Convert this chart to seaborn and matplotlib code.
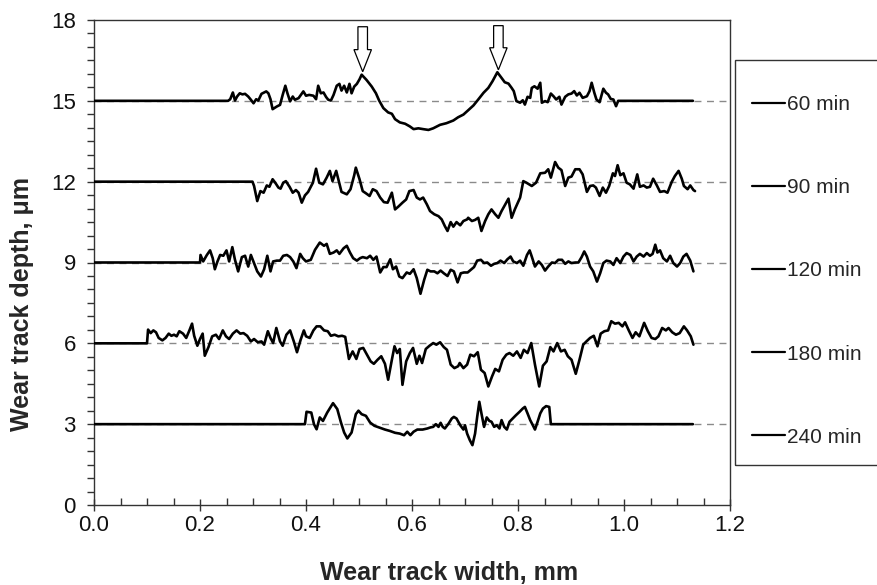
import matplotlib
matplotlib.use("Agg")
import matplotlib.pyplot as plt
import seaborn as sns
from matplotlib.ticker import MultipleLocator, FormatStrFormatter
from matplotlib.lines import Line2D
from matplotlib.patches import Rectangle

# ---------------- data ----------------
labels = ["60 min", "90 min", "120 min", "180 min", "240 min"]
baselines = [15, 12, 9, 6, 3]

x60 = [0.0, 0.253, 0.257, 0.262, 0.266, 0.270, 0.275, 0.280, 0.285, 0.291, 0.296, 0.301, 0.306, 0.310,
       0.316, 0.325, 0.329, 0.333, 0.337, 0.345, 0.351, 0.356, 0.361, 0.365, 0.370, 0.375, 0.379, 0.386,
       0.395, 0.400, 0.406, 0.414, 0.419, 0.423, 0.428, 0.433, 0.438, 0.442, 0.447, 0.452, 0.458, 0.463,
       0.467, 0.472, 0.477, 0.482, 0.486, 0.491, 0.496, 0.501, 0.505, 0.514, 0.524, 0.532, 0.538, 0.546,
       0.555, 0.562, 0.568, 0.577, 0.587, 0.596, 0.603, 0.612, 0.621, 0.631, 0.640, 0.653, 0.665, 0.678,
       0.687, 0.697, 0.706, 0.716, 0.725, 0.735, 0.744, 0.752, 0.761, 0.769, 0.775, 0.782, 0.788, 0.792,
       0.797, 0.804, 0.809, 0.813, 0.818, 0.823, 0.826, 0.831, 0.837, 0.842, 0.845, 0.851, 0.856, 0.862,
       0.867, 0.872, 0.878, 0.882, 0.889, 0.895, 0.901, 0.906, 0.911, 0.916, 0.922, 0.930, 0.935, 0.939,
       0.944, 0.948, 0.954, 0.961, 0.966, 0.970, 0.975, 0.980, 0.985, 0.989, 1.130]
y60 = [15.0, 15.0, 15.06, 15.31, 15.01, 15.16, 15.28, 15.24, 15.26, 15.16, 15.04, 14.91, 15.06, 15.01,
       15.26, 15.35, 15.28, 15.06, 14.69, 14.79, 14.85, 15.22, 15.56, 15.28, 14.98, 15.16, 15.04, 15.10,
       15.35, 15.19, 15.22, 15.19, 15.06, 15.56, 15.28, 15.31, 15.14, 15.04, 15.01, 15.22, 15.56, 15.63,
       15.38, 15.56, 15.31, 15.63, 15.28, 15.53, 15.63, 15.80, 15.97, 15.78, 15.53, 15.28, 15.01, 14.73,
       14.57, 14.52, 14.32, 14.20, 14.15, 14.05, 13.95, 13.98, 13.95, 13.92, 13.98, 14.11, 14.17, 14.27,
       14.39, 14.49, 14.65, 14.83, 15.05, 15.30, 15.48, 15.73, 16.06, 15.85, 15.69, 15.64, 15.48, 15.36,
       14.99, 14.93, 15.02, 14.86, 15.15, 15.11, 15.48, 15.54, 15.45, 15.67, 14.93, 14.99, 14.95, 15.27,
       15.17, 15.05, 15.15, 14.86, 15.15, 15.24, 15.27, 15.36, 15.20, 15.30, 15.11, 15.17, 15.36, 15.67,
       15.30, 15.05, 14.95, 15.45, 15.30, 15.24, 15.07, 15.05, 14.80, 15.0, 15.0]

x90 = [0.0, 0.299, 0.302, 0.308, 0.314, 0.320, 0.326, 0.331, 0.337, 0.342, 0.348, 0.352, 0.357, 0.362,
       0.369, 0.375, 0.381, 0.386, 0.392, 0.398, 0.404, 0.413, 0.419, 0.425, 0.432, 0.439, 0.445, 0.450,
       0.457, 0.461, 0.467, 0.477, 0.484, 0.491, 0.494, 0.501, 0.507, 0.513, 0.520, 0.526, 0.533, 0.540,
       0.547, 0.554, 0.562, 0.568, 0.574, 0.582, 0.589, 0.595, 0.603, 0.609, 0.615, 0.621, 0.628, 0.634,
       0.642, 0.650, 0.656, 0.662, 0.667, 0.673, 0.678, 0.684, 0.691, 0.697, 0.704, 0.706, 0.713, 0.719,
       0.725, 0.731, 0.738, 0.744, 0.750, 0.757, 0.763, 0.769, 0.776, 0.782, 0.788, 0.794, 0.804, 0.810,
       0.816, 0.826, 0.834, 0.842, 0.851, 0.857, 0.862, 0.870, 0.876, 0.882, 0.889, 0.895, 0.901, 0.908,
       0.916, 0.922, 0.930, 0.936, 0.942, 0.947, 0.954, 0.960, 0.966, 0.972, 0.979, 0.983, 0.988, 0.993,
       0.999, 1.005, 1.011, 1.018, 1.025, 1.030, 1.037, 1.043, 1.049, 1.055, 1.062, 1.068, 1.076, 1.082,
       1.090, 1.096, 1.103, 1.109, 1.113, 1.120, 1.125, 1.131, 1.134]
y90 = [12.0, 12.0, 11.84, 11.28, 11.65, 11.59, 11.86, 11.81, 12.09, 11.96, 11.78, 11.74, 11.96, 12.02,
       11.81, 11.59, 11.69, 11.59, 11.22, 11.49, 11.62, 11.96, 12.48, 11.96, 11.90, 12.15, 12.40, 12.02,
       12.40, 12.09, 11.62, 11.53, 11.72, 12.24, 12.52, 12.09, 11.65, 11.57, 11.47, 11.72, 11.65, 11.41,
       11.24, 11.22, 11.59, 10.97, 11.07, 11.22, 11.34, 11.65, 11.69, 11.41, 11.34, 11.41, 11.16, 10.91,
       10.79, 10.72, 10.60, 10.35, 10.17, 10.50, 10.33, 10.50, 10.38, 10.54, 10.60, 10.66, 10.54, 10.58,
       10.66, 10.17, 10.54, 10.79, 10.97, 10.79, 10.66, 10.91, 11.16, 11.37, 10.66, 10.97, 11.41, 12.02,
       11.96, 11.84, 11.96, 12.31, 12.33, 12.46, 12.15, 12.73, 12.52, 12.43, 11.84, 12.15, 12.19, 12.46,
       12.46, 12.27, 11.62, 11.84, 11.86, 11.78, 11.47, 11.78, 11.59, 11.84, 12.31, 12.21, 12.61, 12.24,
       12.31, 11.96, 11.90, 11.74, 12.27, 11.81, 11.86, 11.78, 11.81, 12.11, 11.86, 11.62, 11.65, 11.59,
       11.99, 12.21, 12.40, 12.11, 11.84, 11.72, 11.86, 11.69, 11.65]

x120 = [0.0, 0.200, 0.201, 0.206, 0.213, 0.219, 0.224, 0.228, 0.233, 0.238, 0.244, 0.250, 0.255, 0.261,
        0.266, 0.272, 0.279, 0.285, 0.291, 0.296, 0.302, 0.308, 0.315, 0.321, 0.327, 0.333, 0.338, 0.345,
        0.351, 0.357, 0.364, 0.370, 0.376, 0.382, 0.389, 0.394, 0.400, 0.409, 0.417, 0.426, 0.434, 0.439,
        0.445, 0.452, 0.458, 0.463, 0.471, 0.477, 0.483, 0.489, 0.496, 0.502, 0.507, 0.515, 0.521, 0.527,
        0.533, 0.540, 0.546, 0.552, 0.559, 0.564, 0.570, 0.576, 0.582, 0.590, 0.596, 0.603, 0.609, 0.616,
        0.623, 0.629, 0.635, 0.642, 0.648, 0.654, 0.660, 0.667, 0.673, 0.679, 0.686, 0.692, 0.698, 0.705,
        0.711, 0.717, 0.723, 0.730, 0.736, 0.742, 0.749, 0.755, 0.761, 0.767, 0.774, 0.780, 0.786, 0.791,
        0.798, 0.804, 0.810, 0.817, 0.822, 0.826, 0.832, 0.839, 0.845, 0.851, 0.857, 0.864, 0.870, 0.876,
        0.883, 0.889, 0.895, 0.901, 0.908, 0.914, 0.920, 0.925, 0.930, 0.936, 0.942, 0.949, 0.955, 0.961,
        0.967, 0.974, 0.980, 0.986, 0.993, 0.999, 1.005, 1.012, 1.018, 1.024, 1.030, 1.037, 1.043, 1.049,
        1.054, 1.059, 1.063, 1.068, 1.074, 1.081, 1.087, 1.093, 1.100, 1.106, 1.112, 1.118, 1.125, 1.131]
y120 = [9.0, 9.0, 9.28, 9.04, 9.28, 9.45, 9.16, 8.75, 9.04, 9.28, 9.25, 9.45, 9.04, 9.57,
        9.10, 8.67, 9.20, 9.25, 8.85, 9.28, 8.98, 8.67, 8.48, 8.75, 9.25, 8.67, 9.04, 9.07,
        9.07, 9.25, 9.28, 9.20, 9.04, 8.79, 9.32, 9.16, 9.04, 9.10, 9.47, 9.74, 9.62, 9.69,
        9.32, 9.37, 9.45, 9.32, 9.53, 9.62, 9.37, 9.16, 9.07, 9.16, 9.20, 9.16, 9.25, 9.10,
        9.22, 8.63, 8.83, 8.83, 9.12, 8.75, 8.85, 8.48, 8.42, 8.63, 8.58, 8.75, 8.42, 7.84,
        8.36, 8.73, 8.67, 8.67, 8.60, 8.70, 8.60, 8.50, 8.73, 8.67, 8.26, 8.60, 8.63, 8.63,
        8.73, 8.83, 9.07, 9.10, 8.98, 9.00, 8.88, 8.95, 8.98, 9.07, 8.98, 9.12, 9.22, 9.04,
        8.98, 9.07, 8.88, 9.28, 9.45, 9.22, 8.85, 9.04, 8.91, 8.70, 8.85, 9.00, 8.98, 9.10,
        9.10, 8.95, 9.04, 8.98, 9.00, 9.00, 9.20, 9.41, 9.22, 8.85, 8.67, 8.29, 8.60, 8.98,
        9.07, 9.04, 8.91, 9.16, 8.98, 9.22, 9.35, 9.28, 9.04, 9.22, 9.32, 9.22, 9.35, 9.25,
        9.32, 9.66, 9.37, 9.45, 9.16, 9.04, 9.25, 8.98, 8.85, 8.98, 9.22, 9.32, 9.07, 8.67]

x180 = [0.0, 0.100, 0.102, 0.107, 0.112, 0.117, 0.122, 0.129, 0.135, 0.141, 0.146, 0.151, 0.156, 0.161,
        0.168, 0.174, 0.180, 0.185, 0.189, 0.195, 0.200, 0.205, 0.209, 0.216, 0.223, 0.230, 0.236, 0.243,
        0.249, 0.255, 0.262, 0.269, 0.276, 0.282, 0.289, 0.296, 0.302, 0.309, 0.316, 0.321, 0.328, 0.333,
        0.338, 0.344, 0.351, 0.356, 0.363, 0.370, 0.377, 0.383, 0.390, 0.396, 0.400, 0.407, 0.414, 0.420,
        0.427, 0.434, 0.441, 0.447, 0.454, 0.461, 0.468, 0.474, 0.481, 0.488, 0.495, 0.501, 0.508, 0.515,
        0.522, 0.528, 0.535, 0.542, 0.549, 0.555, 0.562, 0.567, 0.572, 0.577, 0.582, 0.589, 0.596, 0.602,
        0.609, 0.614, 0.619, 0.626, 0.633, 0.640, 0.646, 0.653, 0.660, 0.666, 0.673, 0.680, 0.687, 0.690,
        0.697, 0.704, 0.710, 0.717, 0.724, 0.730, 0.737, 0.744, 0.751, 0.757, 0.764, 0.771, 0.778, 0.784,
        0.791, 0.798, 0.805, 0.811, 0.818, 0.825, 0.832, 0.840, 0.847, 0.854, 0.861, 0.867, 0.874, 0.881,
        0.888, 0.894, 0.901, 0.909, 0.916, 0.923, 0.929, 0.936, 0.943, 0.950, 0.956, 0.963, 0.970, 0.976,
        0.983, 0.990, 0.997, 1.002, 1.009, 1.016, 1.022, 1.029, 1.038, 1.045, 1.052, 1.059, 1.065, 1.072,
        1.079, 1.084, 1.091, 1.098, 1.105, 1.113, 1.119, 1.126, 1.131]
y180 = [6.0, 6.0, 6.51, 6.38, 6.48, 6.41, 6.20, 6.11, 6.20, 6.36, 6.28, 6.32, 6.26, 6.45,
        6.36, 6.20, 6.48, 6.73, 6.28, 5.91, 6.16, 6.36, 5.54, 5.86, 6.26, 6.32, 6.16, 6.48,
        6.26, 6.16, 6.36, 6.48, 6.36, 6.38, 6.28, 6.07, 6.16, 6.04, 6.07, 5.95, 6.45, 6.20,
        6.01, 6.57, 6.07, 5.91, 6.32, 6.48, 6.07, 5.67, 6.14, 6.48, 6.26, 6.20, 6.48, 6.63,
        6.63, 6.48, 6.45, 6.28, 6.32, 6.26, 6.28, 6.24, 5.42, 5.70, 5.42, 5.79, 5.83, 5.58,
        5.33, 5.24, 5.39, 5.52, 5.24, 4.65, 5.39, 5.89, 5.64, 5.79, 4.46, 5.33, 5.64, 5.83,
        5.24, 5.54, 5.27, 5.79, 5.91, 6.01, 5.95, 6.04, 5.86, 5.76, 5.21, 5.08, 5.15, 5.27,
        5.08, 5.21, 5.58, 5.52, 5.67, 5.02, 4.90, 4.40, 4.77, 5.05, 4.96, 5.39, 5.58, 5.64,
        5.54, 5.70, 5.46, 5.76, 5.64, 6.01, 5.21, 4.40, 5.17, 5.33, 5.86, 5.70, 6.01, 5.70,
        5.76, 5.52, 5.39, 4.87, 5.39, 5.95, 6.07, 6.20, 6.28, 5.89, 6.36, 6.45, 6.48, 6.82,
        6.73, 6.76, 6.63, 6.78, 6.48, 6.20, 6.41, 6.26, 6.76, 6.45, 6.20, 6.16, 6.26, 6.57,
        6.48, 6.57, 6.41, 6.32, 6.38, 6.63, 6.48, 6.26, 5.95]

x240 = [0.0, 0.398, 0.401, 0.410, 0.415, 0.420, 0.426, 0.432, 0.440, 0.451, 0.459, 0.466, 0.472, 0.478,
        0.486, 0.494, 0.499, 0.505, 0.513, 0.521, 0.529, 0.549, 0.558, 0.568, 0.577, 0.585, 0.591, 0.597,
        0.603, 0.610, 0.620, 0.629, 0.635, 0.640, 0.645, 0.650, 0.654, 0.658, 0.662, 0.669, 0.675, 0.679,
        0.684, 0.691, 0.697, 0.700, 0.704, 0.709, 0.714, 0.719, 0.723, 0.727, 0.731, 0.736, 0.741, 0.746,
        0.750, 0.755, 0.760, 0.765, 0.769, 0.774, 0.779, 0.784, 0.790, 0.796, 0.803, 0.809, 0.813, 0.818,
        0.823, 0.828, 0.832, 0.837, 0.842, 0.847, 0.853, 0.859, 0.862, 1.130]
y240 = [3.0, 3.0, 3.46, 3.43, 3.00, 2.81, 3.25, 3.12, 3.43, 3.78, 3.56, 3.06, 2.69, 2.47,
        2.69, 3.37, 3.50, 3.37, 3.31, 3.06, 2.94, 2.80, 2.75, 2.68, 2.65, 2.59, 2.72, 2.59,
        2.72, 2.80, 2.80, 2.84, 2.88, 2.90, 3.00, 2.90, 3.05, 2.90, 2.84, 3.02, 3.21, 3.27,
        3.21, 2.96, 2.80, 2.96, 2.65, 2.41, 2.22, 2.65, 3.27, 3.83, 3.40, 2.90, 3.25, 3.12,
        3.09, 2.90, 2.96, 2.84, 3.15, 2.90, 2.80, 3.09, 3.21, 3.33, 3.46, 3.58, 3.64, 3.40,
        3.15, 2.96, 2.80, 3.09, 3.40, 3.58, 3.67, 3.64, 3.00, 3.00]

series_x = [x60, x90, x120, x180, x240]
series_y = [y60, y90, y120, y180, y240]

# arrows marking the ridge peaks of the 60 min profile
arrow_x = [0.507, 0.763]
arrow_top = [17.75, 17.79]
arrow_tip = [16.08, 16.15]

# ---------------- style ----------------
sns.set_theme(style="white")
plt.rcParams["font.family"] = ["Liberation Sans", "DejaVu Sans"]

fig = plt.figure(figsize=(8.77, 5.85), dpi=100)
ax = fig.add_axes([94 / 877, 1 - 505 / 585, 636 / 877, 485 / 585])

for b in baselines:
    ax.axhline(b, color="#8a8a8a", lw=1.0, ls=(0, (5, 4)), zorder=1)

for xs, ys, lab in zip(series_x, series_y, labels):
    sns.lineplot(x=xs, y=ys, ax=ax, color="black", lw=1.9, sort=False,
                 estimator=None, zorder=3, label=lab, legend=False)

for xa, yt, yb in zip(arrow_x, arrow_top, arrow_tip):
    ax.arrow(xa, yt, 0, yb - yt, width=0.018, head_width=0.033, head_length=0.82,
             length_includes_head=True, fc="white", ec="black", lw=0.9, zorder=4)

ax.set_xlim(0, 1.2)
ax.set_ylim(0, 18)
ax.xaxis.set_major_locator(MultipleLocator(0.2))
ax.xaxis.set_minor_locator(MultipleLocator(0.05))
ax.yaxis.set_major_locator(MultipleLocator(3))
ax.yaxis.set_minor_locator(MultipleLocator(0.5))
ax.xaxis.set_major_formatter(FormatStrFormatter("%.1f"))
ax.yaxis.set_major_formatter(FormatStrFormatter("%d"))

ax.tick_params(axis="x", which="major", direction="inout", length=9, width=1,
               color="#333333", labelsize=16, pad=3, bottom=True, labelcolor="#111111")
ax.tick_params(axis="x", which="minor", direction="in", length=5, width=1,
               color="#333333", bottom=True)
ax.tick_params(axis="y", which="major", direction="out", length=5, width=1,
               color="#333333", labelsize=16, pad=8, left=True, labelcolor="#111111")
ax.tick_params(axis="y", which="minor", direction="out", length=5, width=1,
               color="#333333", left=True)
for sp in ax.spines.values():
    sp.set_color("#333333")
    sp.set_linewidth(1.0)

ax.set_xlabel("Wear track width, mm", fontsize=18, fontweight="bold", va="center")
ax.xaxis.set_label_coords((449 - 94) / 636, (505 - 573) / 485)
ax.set_ylabel("Wear track depth, \u03bcm", fontsize=18, fontweight="bold", va="center")
ax.yaxis.set_label_coords((22 - 94) / 636, (505 - 304) / 485)

# legend box extending off the right edge
fig.patches.append(Rectangle((735 / 877, 1 - 465 / 585), 0.2, 405 / 585,
                             transform=fig.transFigure, fill=False,
                             ec="#333333", lw=1.0, clip_on=False))
handles = [Line2D([], [], color="black", lw=1.6) for _ in labels]
fig.legend(handles, labels, loc="upper left", bbox_to_anchor=(752 / 877, 1 - 95 / 585),
           frameon=False, fontsize=15, handlelength=1.6, handletextpad=0.08,
           labelspacing=3.08, borderpad=0, borderaxespad=0)

fig.savefig("out.png", dpi=100, facecolor="white")
